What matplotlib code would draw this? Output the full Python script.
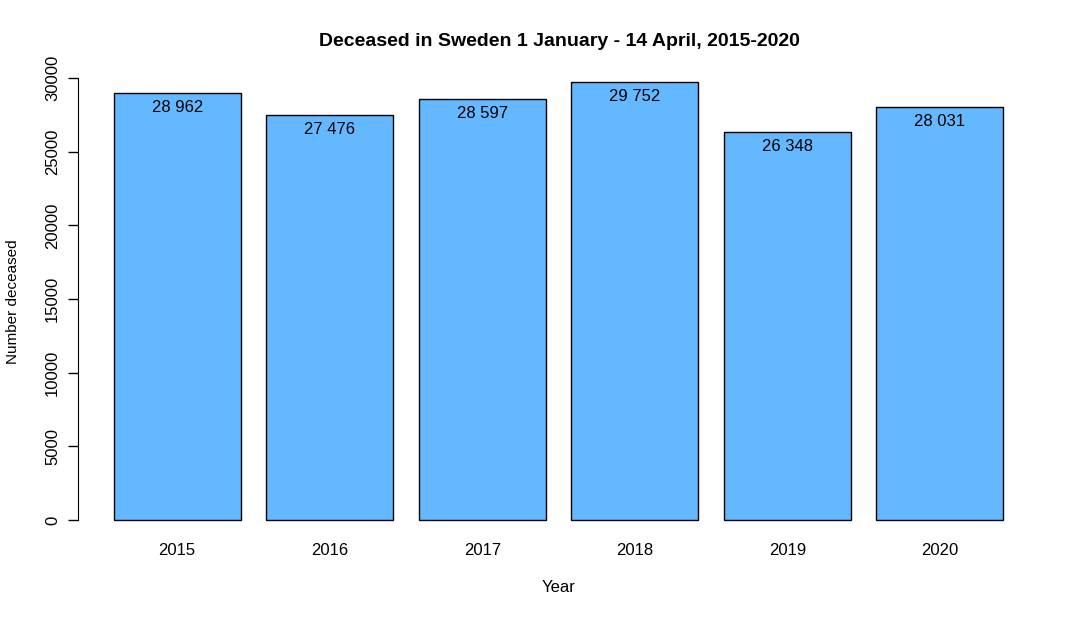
import matplotlib
matplotlib.use("Agg")
import matplotlib.pyplot as plt

years = ["2015", "2016", "2017", "2018", "2019", "2020"]
deceased = [28962, 27476, 28597, 29752, 26348, 28031]
yticks = [0, 5000, 10000, 15000, 20000, 25000, 30000]

plt.rcParams['font.family'] = ['Liberation Sans', 'DejaVu Sans']

fig = plt.figure(figsize=(10.8, 6.18), dpi=100)
ax = fig.add_axes([78/1080, 1-537.7/618, (1039-78)/1080, (537.7-60.3)/618])

xs = [0.7 + 1.2*i for i in range(len(years))]
ax.bar(xs, deceased, width=1.0, color="#63B8FF", edgecolor="black", linewidth=1.0)
for x, v in zip(xs, deceased):
    ax.annotate(f"{v:,}".replace(",", " "), (x, v), xytext=(0, -10.5), textcoords="offset points",
                ha="center", va="center", fontsize=12)

ax.set_xlim(-0.08, 7.48)
ax.set_ylim(-1200, 31200)
for s in ["top", "right", "bottom"]:
    ax.spines[s].set_visible(False)
ax.spines["left"].set_bounds(0, 30000)
ax.set_yticks(yticks)
ax.set_yticklabels([str(t) for t in yticks], rotation=90, va="center", fontsize=12)
ax.tick_params(axis="y", length=7, width=1, pad=6)
ax.set_xticks(xs)
ax.set_xticklabels(years, fontsize=12)
ax.tick_params(axis="x", length=0, pad=4)

fig.text(559/1080, 1-41/618, "Deceased in Sweden 1 January - 14 April, 2015-2020",
         ha="center", va="center", fontsize=14, fontweight="bold")
fig.text(559/1080, 1-588/618, "Year", ha="center", va="center", fontsize=12)
fig.text(13/1080, 1-302/618, "Number deceased", ha="center", va="center", fontsize=11, rotation=90)

fig.savefig("out.png", dpi=100)
